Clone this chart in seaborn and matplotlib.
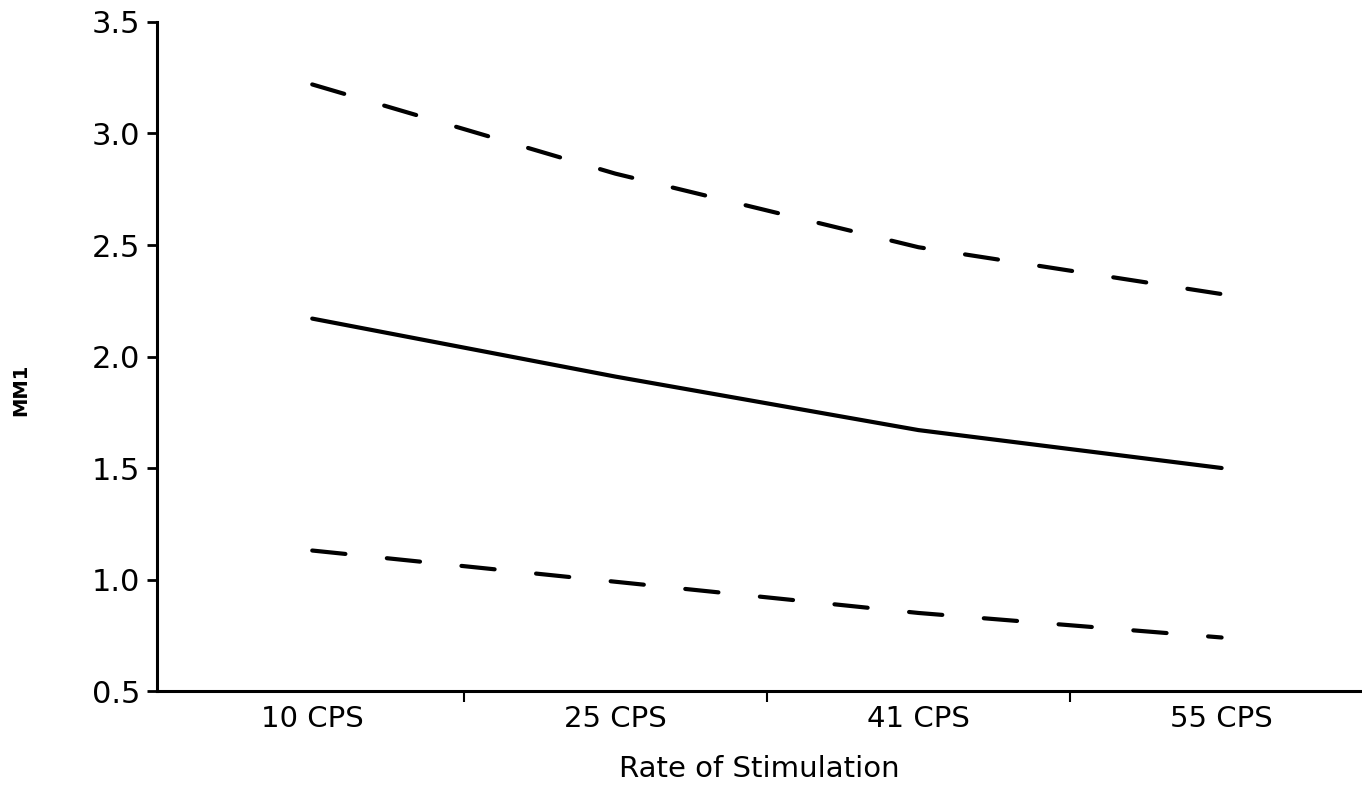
import matplotlib
matplotlib.use("Agg")
import matplotlib.pyplot as plt
import seaborn as sns
import pandas as pd
from matplotlib.ticker import FixedLocator

categories = ["10 CPS", "25 CPS", "41 CPS", "55 CPS"]
mean_values = [2.17, 1.91, 1.67, 1.50]
upper_values = [3.22, 2.82, 2.49, 2.28]
lower_values = [1.13, 0.99, 0.85, 0.74]
y_ticks = [0.5, 1.0, 1.5, 2.0, 2.5, 3.0, 3.5]

sns.set_theme(style="white")
plt.rcParams["font.family"] = ["DejaVu Sans"]
plt.rcParams["text.color"] = "black"
plt.rcParams["axes.labelcolor"] = "black"
plt.rcParams["xtick.color"] = "black"
plt.rcParams["ytick.color"] = "black"

fig = plt.figure(figsize=(13.62, 7.94), dpi=100)
ax = fig.add_axes([0.1153, 0.1297, 0.884, 0.8426])

df = pd.DataFrame({"rate": categories, "mean": mean_values,
                   "upper": upper_values, "lower": lower_values})

sns.lineplot(data=df, x="rate", y="mean", ax=ax, color="black", lw=3.0, sort=False)
for col in ["upper", "lower"]:
    sns.lineplot(data=df, x="rate", y=col, ax=ax, color="black", lw=3.0,
                 sort=False, dashes=False)
    ax.lines[-1].set_dashes((8.0, 10.0))
    ax.lines[-1].set_dash_capstyle("round")

ax.set_xlim(-0.512, 3.46)
ax.set_ylim(0.5, 3.5)
ax.set_yticks(y_ticks)
ax.set_yticklabels([f"{v:.1f}" for v in y_ticks])

ax.set_xticks(range(len(categories)))
ax.set_xticklabels(categories)
ax.xaxis.set_minor_locator(FixedLocator([0.5, 1.5, 2.5]))
ax.tick_params(axis="x", which="major", length=0, labelsize=21, pad=10)
ax.tick_params(axis="x", which="minor", bottom=True, length=8, width=1.5, color="black")
ax.tick_params(axis="y", which="major", left=True, length=7, width=2, color="black",
               labelsize=22, pad=5)

for s in ["top", "right"]:
    ax.spines[s].set_visible(False)
for s in ["left", "bottom"]:
    ax.spines[s].set_color("black")
    ax.spines[s].set_linewidth(2.2)

ax.set_xlabel("Rate of Stimulation", fontsize=21, labelpad=16)
ax.set_ylabel("MM1", fontsize=14, fontweight="bold")
ax.yaxis.set_label_coords(-0.105, 0.45)

fig.savefig("out.png", dpi=100)
